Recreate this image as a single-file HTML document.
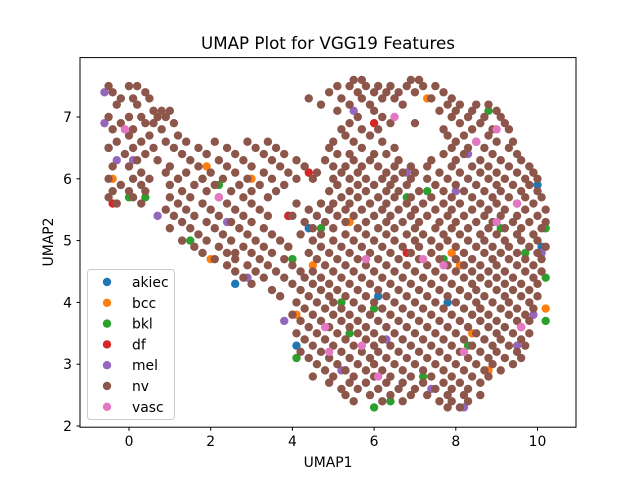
<!DOCTYPE html>
<html><head><meta charset="utf-8"><style>
body{margin:0;background:#fff;}
svg text{font-family:"DejaVu Sans","Liberation Sans",sans-serif;fill:#000;}
</style></head><body>
<svg id="chart" width="640" height="480">
<rect width="640" height="480" fill="#fff"/>
<text x="328" y="49" font-size="16.7" text-anchor="middle">UMAP Plot for VGG19 Features</text>
<g id="marks"></g>
<rect x="80" y="57.6" width="496" height="369.6" fill="none" stroke="#000" stroke-width="1"/>
<g id="axes"></g>
<text x="328" y="467" font-size="13.9" text-anchor="middle">UMAP1</text>
<text x="0" y="0" font-size="13.9" text-anchor="middle" transform="translate(53,242) rotate(-90)">UMAP2</text>
<g id="legend"></g>
</svg>
<script>
const xTicks=[0,2,4,6,8,10];
const yTicks=[2,3,4,5,6,7];
const classNames=["akiec","bcc","bkl","df","mel","nv","vasc"];
const classColors=["#1f77b4","#ff7f0e","#2ca02c","#d62728","#9467bd","#8c564b","#e377c2"];
const akiec=[[-0.5,6.5],[2.6,4.3],[7.8,4.0],[10.1,4.9],[3.9,5.4],[10,5.9],[1.9,6.4],[4.4,5.2],[6.1,4.1],[4.1,3.3]];
const bcc=[[-0.4,6.0],[1.2,6.0],[2,4.7],[3.9,4.9],[4.5,4.6],[7.9,4.8],[8.8,2.9],[10.2,3.9],[7.1,7.6],[1.9,6.2],[3,6.0],[7.3,7.3],[8.1,4.6],[6.4,3.8],[5.4,5.3],[9.9,6.1],[8.4,3.5],[4.1,3.8]];
const bkl=[[0,5.7],[1.5,5.0],[4,4.7],[4.1,3.1],[5.2,4.0],[6,2.3],[7.2,2.8],[7.3,5.8],[10.2,5.2],[10.2,4.4],[4.7,5.2],[8.3,3.3],[1.8,6.0],[6,3.9],[0.4,5.7],[6.4,2.4],[7.7,4.7],[9.7,4.8],[9.1,5.2],[8.8,7.1],[6.8,5.7],[5.4,3.5],[10.2,3.7],[2.2,5.9]];
const df=[[6,6.9],[6.8,4.8],[4.4,6.1],[8.6,3.9],[-0.4,5.6],[3.9,5.4]];
const mel=[[-0.3,6.3],[0.7,5.4],[2.9,4.4],[3.8,3.7],[5.2,2.9],[6.8,6.1],[8,5.8],[9.5,3.3],[8.3,6.4],[5.5,7.1],[2.4,5.3],[-0.6,7.4],[-0.6,6.9],[0.1,6.3],[4.9,5.5],[8.2,2.3],[10.1,4.8],[9.9,3.8],[6.3,3.4],[7.4,2.6]];
const nvRowY=[7.6,7.5,7.4,7.3,7.2,7.1,7.0,6.9,6.8,6.7,6.6,6.5,6.4,6.3,6.2,6.1,6.0,5.9,5.8,5.7,5.6,5.5,5.4,5.3,5.2,5.1,5.0,4.9,4.8,4.7,4.6,4.5,4.4,4.3,4.2,4.1,4.0,3.9,3.8,3.7,3.6,3.5,3.4,3.3,3.2,3.1,3.0,2.9,2.8,2.7,2.6,2.5,2.4,2.3];
const nvRowX=[
[5.5,5.7,6.9,7.1],
[-0.5,0.0,0.2,5.1,5.4,5.8,6.1,6.4,6.8,7.2,7.5],
[-0.4,0.4,4.9,5.6,6.0,6.3,6.6,7.0,7.7],
[-0.2,0.1,0.5,4.4,5.2,5.7,6.2,6.5,7.4,7.9],
[-0.3,0.2,4.7,5.4,5.9,6.7,7.8,8.1,8.5,8.8],
[0.6,0.8,1.0,5.1,6.0,7.6,8.0,8.4,9.0],
[-0.5,0.0,0.3,0.7,0.9,5.6,6.2,7.9,8.3,8.7,9.1],
[-0.2,0.4,0.6,1.1,5.4,6.4,7.0,8.1,8.6,9.2],
[-0.4,0.1,0.8,5.2,5.7,6.1,7.7,8.4,8.9,9.3],
[0.0,0.5,1.2,5.3,5.9,7.8,8.2,8.8],
[-0.3,0.3,0.9,1.4,2.1,2.9,3.4,5.0,5.5,6.2,8.0,8.5,9.0,9.4],
[-0.5,0.1,0.6,1.1,1.7,2.4,3.1,3.6,4.9,5.7,6.5,7.9,8.3,8.7,9.3],
[-0.1,0.4,1.3,1.9,2.6,3.3,3.8,5.1,5.4,6.0,6.3,7.7,8.2,8.9,9.5],
[0.2,0.7,1.5,2.2,2.8,3.5,4.1,4.8,5.5,5.9,6.6,7.4,8.0,8.6,9.1,9.6],
[-0.4,0.0,1.0,1.7,2.4,3.0,3.7,4.3,5.0,5.3,5.7,6.1,6.5,6.9,7.3,7.9,8.4,8.8,9.3,9.8],
[0.3,0.9,1.4,2.0,2.6,3.3,3.9,4.6,5.2,5.6,6.3,6.7,7.0,7.6,8.1,8.6,9.0,9.5,9.9],
[-0.5,0.1,0.5,1.2,1.8,2.3,2.9,3.5,4.1,4.5,5.0,5.4,5.8,6.2,6.5,6.9,7.3,7.8,8.3,8.8,9.2,9.7,10.0],
[-0.2,0.3,1.0,1.6,2.1,2.7,3.2,3.8,5.1,5.6,6.0,6.4,6.8,7.5,8.0,8.5,9.0,9.4,9.8],
[-0.4,0.0,0.4,1.3,1.9,2.5,3.0,3.6,4.9,5.4,5.8,6.3,6.6,7.1,7.7,8.2,8.7,9.1,9.6,10.0],
[-0.5,0.1,1.0,1.5,2.2,2.8,3.4,5.2,5.6,6.1,6.5,6.9,7.4,7.9,8.4,8.9,9.3,9.7,10.1],
[-0.3,0.3,1.2,1.8,2.4,3.0,4.1,4.7,5.0,5.4,5.9,6.3,6.8,7.2,7.7,8.1,8.6,9.0,9.5,9.9],
[0.9,1.4,2.0,2.6,3.2,4.4,4.9,5.3,5.7,6.2,6.6,7.0,7.5,7.9,8.4,8.8,9.2,9.7,10.2],
[1.1,1.6,2.2,2.8,3.4,4.0,4.6,5.1,5.5,6.0,6.4,6.9,7.3,7.8,8.2,8.7,9.1,9.5,10.0],
[1.3,1.9,2.5,3.0,4.3,4.8,5.3,5.8,6.3,6.7,7.1,7.6,8.0,8.5,8.9,9.4,9.8,10.2],
[1.0,1.5,2.1,2.7,3.3,4.5,5.0,5.6,6.1,6.5,7.0,7.5,7.9,8.3,8.8,9.2,9.6,10.1],
[1.7,2.3,2.9,3.5,4.2,4.7,5.3,5.8,6.3,6.8,7.2,7.7,8.1,8.6,9.0,9.5,9.9],
[1.3,1.9,2.5,3.1,3.7,4.5,5.0,5.5,6.0,6.5,7.0,7.4,7.8,8.3,8.7,9.2,9.6,10.0],
[1.6,2.2,2.8,3.3,3.9,4.7,5.2,5.7,6.2,6.7,7.1,7.6,8.0,8.5,8.9,9.3,9.8,10.2],
[1.8,2.4,2.6,3.0,3.5,4.4,4.9,5.4,5.9,6.4,6.9,7.4,8.2,8.7,9.1,9.5,10.0],
[2.1,2.6,3.2,3.8,4.6,5.1,5.6,6.1,6.6,7.1,7.6,8.0,8.4,8.9,9.3,9.7,10.1],
[2.4,2.9,3.4,4.0,4.8,5.3,5.8,6.3,6.8,7.3,7.8,8.2,8.6,9.0,9.5,9.9],
[2.6,3.1,3.6,4.2,4.5,5.0,5.5,6.0,6.5,7.0,7.5,8.0,8.4,8.8,9.2,9.7,10.1],
[2.8,3.3,3.8,4.3,4.7,5.2,5.7,6.2,6.7,7.2,7.7,8.2,8.6,9.0,9.4,9.9],
[3.0,4.0,4.5,4.9,5.4,5.9,6.4,6.9,7.4,7.9,8.4,8.8,9.2,9.6,10.0],
[3.5,4.2,4.7,5.1,5.6,6.1,6.6,7.1,7.6,8.1,8.5,9.0,9.4,9.8],
[3.7,4.4,4.9,5.3,5.8,6.3,6.8,7.3,7.8,8.3,8.7,9.2,9.6,10.0],
[4.1,4.6,5.0,5.5,6.0,6.5,7.0,7.5,8.0,8.5,8.9,9.3,9.8],
[4.3,4.8,5.2,5.7,6.2,6.7,7.2,7.7,8.2,8.6,9.1,9.5,9.9],
[4.0,4.5,5.0,5.4,5.9,6.4,6.9,7.4,7.9,8.4,8.8,9.3,9.7],
[4.2,4.7,5.2,5.6,6.1,6.6,7.1,7.6,8.1,8.6,9.0,9.5,9.8],
[4.4,4.9,5.4,5.8,6.3,6.8,7.3,7.8,8.3,8.8,9.2,9.6],
[4.1,4.6,5.1,5.6,6.0,6.5,7.0,7.5,8.0,8.5,9.0,9.4,9.8],
[4.3,4.8,5.3,5.8,6.2,6.7,7.2,7.7,8.2,8.7,9.1,9.6],
[4.5,5.0,5.5,6.0,6.4,6.9,7.4,7.9,8.4,8.9,9.3,9.7],
[4.2,4.7,5.2,5.7,6.1,6.6,7.1,7.6,8.1,8.6,9.0,9.5],
[4.4,4.9,5.4,5.9,6.3,6.8,7.3,7.8,8.3,8.8,9.2,9.6],
[4.6,5.1,5.6,6.0,6.5,7.0,7.5,8.0,8.5,8.9,9.4],
[4.8,5.3,5.8,6.2,6.7,7.2,7.7,8.2,8.7,9.1],
[4.5,5.0,5.5,6.0,6.4,6.9,7.4,7.9,8.4,8.8],
[4.9,5.4,5.8,6.3,6.7,7.2,7.7,8.1,8.6],
[5.2,5.6,6.1,6.6,7.0,7.5,7.9,8.3],
[5.3,5.9,6.4,6.9,7.3,7.8,8.2,8.6],
[5.5,6.2,6.7,7.6,7.9,8.3],
[7.8,8.1]];
const vasc=[[-0.1,6.8],[2.2,5.7],[4.8,3.6],[5.7,3.3],[7.2,4.7],[8.2,3.2],[9,6.8],[9.5,5.6],[9.0,5.3],[6.1,2.8],[6.5,7.0],[4.9,3.2],[7.7,4.6],[5.8,4.7],[9.6,3.6],[8.5,6.6]];
const nv=[];
nvRowY.forEach((y,i)=>nvRowX[i].forEach(x=>nv.push([x,y])));
const series=[akiec,bcc,bkl,df,mel,nv,vasc];
const xs=v=>129+(v-0)*40.85;
const ys=v=>426-(v-2)*61.8;
const NS="http://www.w3.org/2000/svg";
function mk(t,a){const e=document.createElementNS(NS,t);for(const k in a)e.setAttribute(k,a[k]);return e;}
const marks=document.getElementById('marks');
series.forEach((pts,si)=>{
  const g=mk('g',{});
  
  
  pts.forEach(p=>{
    const c=mk('circle',{cx:xs(p[0]),cy:ys(p[1]),r:4.2,fill:classColors[si]});
    
    
    g.appendChild(c);
  });
  marks.appendChild(g);
});
const axes=document.getElementById('axes');
xTicks.forEach(t=>{
  const l=mk('line',{x1:xs(t),x2:xs(t),y1:427.2,y2:430.7,stroke:'#000'});
  
  
  axes.appendChild(l);
  const tx=mk('text',{x:xs(t),y:446,'font-size':13.9,'text-anchor':'middle'});
  tx.textContent=t;
  
  
  axes.appendChild(tx);
});
yTicks.forEach(t=>{
  const l=mk('line',{x1:76.5,x2:80,y1:ys(t),y2:ys(t),stroke:'#000'});
  
  
  axes.appendChild(l);
  const tx=mk('text',{x:72,y:ys(t)+5,'font-size':13.9,'text-anchor':'end'});
  tx.textContent=t;
  
  
  axes.appendChild(tx);
});
const lg=document.getElementById('legend');


lg.appendChild(mk('rect',{x:87.5,y:269.5,width:87,height:150,rx:3,fill:'#fff','fill-opacity':0.8,stroke:'#ccc'}));
classNames.forEach((n,i)=>{
  const y=282+i*20.8;
  const g=mk('g',{});
  
  
  g.appendChild(mk('circle',{cx:107,cy:y,r:4.2,fill:classColors[i]}));
  const tx=mk('text',{x:132,y:y+5,'font-size':13.9});
  tx.textContent=n;
  g.appendChild(tx);
  lg.appendChild(g);
});
</script>
</body></html>
